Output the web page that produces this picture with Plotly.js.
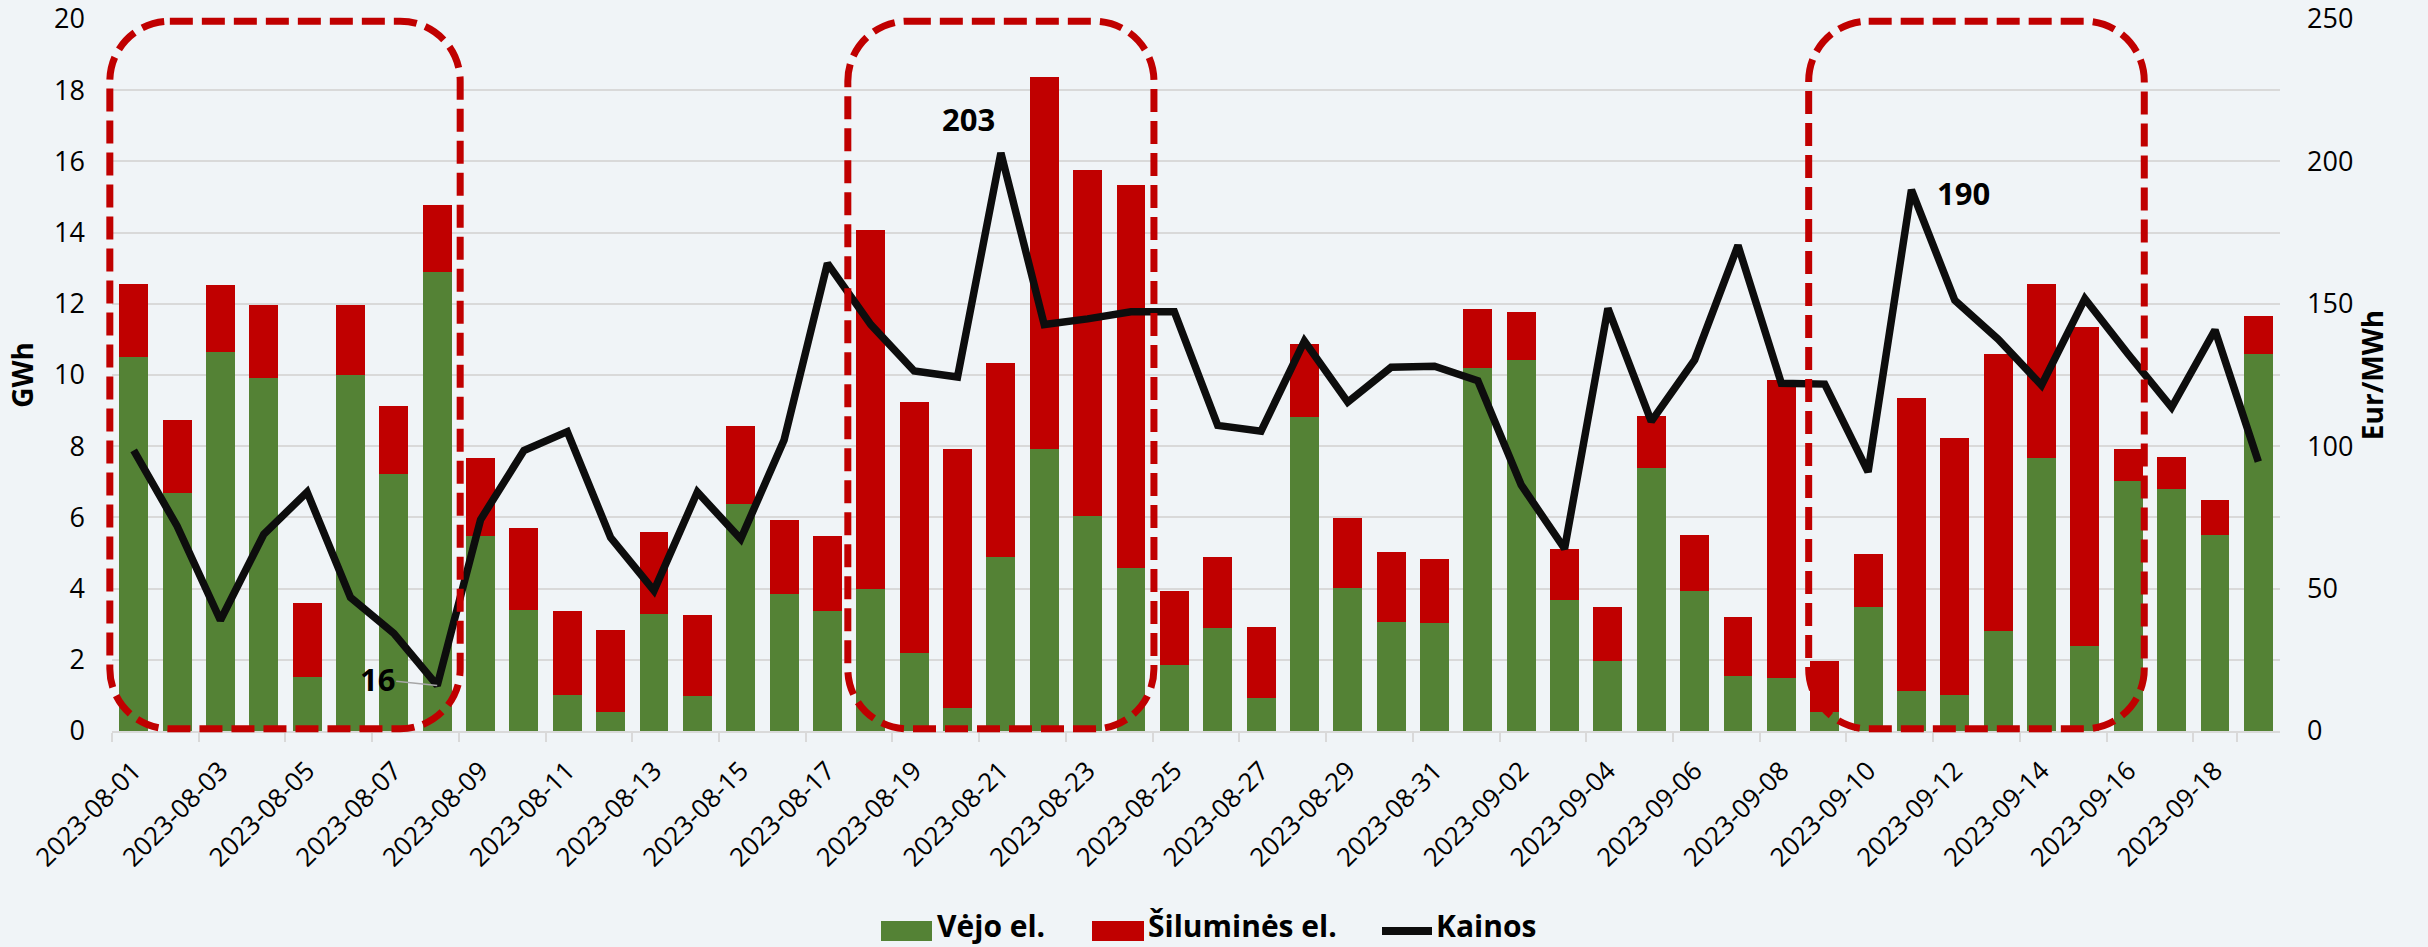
<!DOCTYPE html>
<html>
<head>
<meta charset="utf-8">
<script src="https://cdn.plot.ly/plotly-3.0.1.min.js"></script>
<style>
html,body{margin:0;padding:0;background:#F0F4F7;}
#chart{width:2428px;height:947px;}
</style>
</head>
<body>
<div id="chart"></div>
<script>
// ---- data ----
const dates = [
  "2023-08-01","2023-08-02","2023-08-03","2023-08-04","2023-08-05","2023-08-06","2023-08-07","2023-08-08","2023-08-09","2023-08-10",
  "2023-08-11","2023-08-12","2023-08-13","2023-08-14","2023-08-15","2023-08-16","2023-08-17","2023-08-18","2023-08-19","2023-08-20",
  "2023-08-21","2023-08-22","2023-08-23","2023-08-24","2023-08-25","2023-08-26","2023-08-27","2023-08-28","2023-08-29","2023-08-30",
  "2023-08-31","2023-09-01","2023-09-02","2023-09-03","2023-09-04","2023-09-05","2023-09-06","2023-09-07","2023-09-08","2023-09-09",
  "2023-09-10","2023-09-11","2023-09-12","2023-09-13","2023-09-14","2023-09-15","2023-09-16","2023-09-17","2023-09-18","2023-09-19"
];
const windGWh = [
  10.50, 6.68, 10.64, 9.92, 1.52, 10.00, 7.23, 12.88, 5.49, 3.40,
  1.02, 0.54, 3.29, 0.98, 6.39, 3.86, 3.38, 3.98, 2.19, 0.65,
  4.90, 7.91, 6.05, 4.57, 1.85, 2.89, 0.92, 8.83, 4.01, 3.07,
  3.04, 10.19, 10.42, 3.67, 1.98, 7.39, 3.93, 1.54, 1.48, 0.54,
  3.49, 1.11, 1.01, 2.81, 7.68, 2.40, 7.02, 6.81, 5.50, 10.60
];
const thermalGWh = [
  2.05, 2.06, 1.90, 2.06, 2.07, 1.98, 1.89, 1.89, 2.19, 2.31,
  2.34, 2.31, 2.31, 2.28, 2.18, 2.06, 2.11, 10.10, 7.06, 7.28,
  5.44, 10.46, 9.70, 10.78, 2.09, 2.01, 2.00, 2.03, 1.98, 1.96,
  1.78, 1.67, 1.36, 1.44, 1.51, 1.47, 1.57, 1.65, 8.38, 1.42,
  1.48, 8.24, 7.21, 7.77, 4.87, 8.94, 0.91, 0.89, 0.98, 1.07
];
const prices = [
  98.5, 72.0, 38.9, 69.1, 83.9, 46.9, 34.3, 16.0, 74.2, 98.5,
  105.1, 67.9, 49.3, 83.9, 67.4, 102.2, 164.2, 142.7, 126.4, 124.3,
  203.0, 142.7, 144.7, 147.2, 147.2, 107.3, 105.3, 136.9, 115.5, 127.7,
  128.1, 123.0, 86.4, 64.0, 148.4, 108.7, 130.3, 170.5, 122.1, 121.8,
  91.0, 190.0, 151.2, 137.6, 121.4, 151.8, 132.3, 113.6, 140.8, 94.6
];
const tickDates = dates.filter((d, i) => i % 2 === 0);
const seriesNames = ["Vėjo el.", "Šiluminės el.", "Kainos"];
const labelledDates = ["2023-08-08", "2023-08-21", "2023-09-11"];

// ---- style ----
const GREEN = "#548235", RED = "#C00000", BLACK = "#0D0D0D", BG = "#F0F4F7", GRID = "#D9D9D9";
const W = 2428, H = 947;
const M = {l: 112, r: 148, t: 19, b: 216};
const PW = W - M.l - M.r, PH = H - M.t - M.b;
const N = dates.length;

const traces = [
  {type: "bar", name: seriesNames[0], x: dates, y: windGWh, marker: {color: GREEN}, yaxis: "y", showlegend: false},
  {type: "bar", name: seriesNames[1], x: dates, y: thermalGWh, marker: {color: RED}, yaxis: "y", showlegend: false},
  {type: "scatter", mode: "lines", name: seriesNames[2], x: dates, y: prices, yaxis: "y2",
   line: {color: BLACK, width: 7.5, shape: "linear"}, showlegend: false}
];

// highlight boxes (category-index extents)
const boxes = [[-0.55, 7.53], [16.47, 23.53], [38.63, 46.37]];
function catToPaper(c) { return (c + 0.5) / N; }
function roundRectPath(x0, x1, y0, y1, rpx) {
  const rx = rpx / PW, ry = rpx / PH, k = 0.5523;
  const f = v => v.toFixed(5);
  return `M ${f(x0 + rx)},${f(y1)} L ${f(x1 - rx)},${f(y1)} ` +
    `C ${f(x1 - rx + k*rx)},${f(y1)} ${f(x1)},${f(y1 - ry + k*ry)} ${f(x1)},${f(y1 - ry)} ` +
    `L ${f(x1)},${f(y0 + ry)} ` +
    `C ${f(x1)},${f(y0 + ry - k*ry)} ${f(x1 - rx + k*rx)},${f(y0)} ${f(x1 - rx)},${f(y0)} ` +
    `L ${f(x0 + rx)},${f(y0)} ` +
    `C ${f(x0 + rx - k*rx)},${f(y0)} ${f(x0)},${f(y0 + ry - k*ry)} ${f(x0)},${f(y0 + ry)} ` +
    `L ${f(x0)},${f(y1 - ry)} ` +
    `C ${f(x0)},${f(y1 - ry + k*ry)} ${f(x0 + rx - k*rx)},${f(y1)} ${f(x0 + rx)},${f(y1)} Z`;
}
const shapes = boxes.map(b => ({
  type: "path", xref: "paper", yref: "paper", layer: "above",
  path: roundRectPath(catToPaper(b[0]), catToPaper(b[1]), 0.003, 0.997, 60),
  line: {color: RED, width: 7, dash: "23px,9px"}, fillcolor: "rgba(0,0,0,0)"
}));

// custom legend (pixel positions -> paper)
const px = v => (v - M.l) / PW;
const py = v => (H - M.b - v) / PH;
const legY = 931;
shapes.push(
  {type: "rect", xref: "paper", yref: "paper", x0: px(881), x1: px(932), y0: py(legY + 10), y1: py(legY - 10), fillcolor: GREEN, line: {width: 0}},
  {type: "rect", xref: "paper", yref: "paper", x0: px(1092), x1: px(1144), y0: py(legY + 10), y1: py(legY - 10), fillcolor: RED, line: {width: 0}},
  {type: "line", xref: "paper", yref: "paper", x0: px(1382), x1: px(1432), y0: py(legY), y1: py(legY), line: {color: BLACK, width: 8}}
);
const legFont = {family: "Open Sans", size: 30, color: "#000", weight: 700};
const legBottom = 947;
const annotations = [
  {xref: "paper", yref: "paper", x: px(936), y: py(legBottom), xanchor: "left", yanchor: "bottom", borderpad: 0, text: "<b>" + seriesNames[0] + "</b>", showarrow: false, font: legFont},
  {xref: "paper", yref: "paper", x: px(1147), y: py(legBottom), xanchor: "left", yanchor: "bottom", borderpad: 0, text: "<b>" + seriesNames[1] + "</b>", showarrow: false, font: legFont},
  {xref: "paper", yref: "paper", x: px(1435), y: py(legBottom), xanchor: "left", yanchor: "bottom", borderpad: 0, text: "<b>" + seriesNames[2] + "</b>", showarrow: false, font: legFont}
];

// value labels
const valFont = {family: "Open Sans", size: 31, color: "#000"};
const iA = dates.indexOf(labelledDates[0]);
const iB = dates.indexOf(labelledDates[1]);
const iC = dates.indexOf(labelledDates[2]);
annotations.push(
  {x: dates[iA], y: prices[iA], xref: "x", yref: "y2", text: "<b>" + Math.round(prices[iA]) + "</b>", font: valFont,
   showarrow: true, arrowhead: 0, arrowwidth: 1.5, arrowcolor: "#A6A6A6", ax: -60, ay: -6, standoff: 0},
  {x: dates[iB], y: prices[iB], xref: "x", yref: "y2", text: "<b>" + Math.round(prices[iB]) + "</b>", font: valFont,
   showarrow: false, xshift: -32, yshift: 34},
  {x: dates[iC], y: prices[iC], xref: "x", yref: "y2", text: "<b>" + Math.round(prices[iC]) + "</b>", font: valFont,
   showarrow: false, xshift: 52, yshift: -3}
);

const tickFont = {family: "Open Sans", size: 27, color: "#000"};
const layout = {
  width: W, height: H,
  margin: M,
  paper_bgcolor: BG, plot_bgcolor: BG,
  barmode: "stack", bargap: 0.333,
  showlegend: false,
  font: {family: "Open Sans", color: "#000"},
  xaxis: {
    type: "category", tickmode: "array", tickvals: tickDates, ticktext: tickDates,
    tickangle: -45, tickson: "boundaries", ticks: "outside", ticklen: 9, tickwidth: 2, tickcolor: GRID,
    showline: true, linecolor: GRID, linewidth: 2, showgrid: false, ticklabelstandoff: 12,
    tickfont: {family: "Open Sans", size: 26, color: "#000"}, automargin: false
  },
  yaxis: {
    range: [0, 20], dtick: 2, tick0: 0, showgrid: true, gridcolor: GRID, gridwidth: 2, zeroline: false,
    tickfont: tickFont, ticklabelstandoff: 26, automargin: false, ticklabeloverflow: "allow",
    title: {text: "GWh", font: {family: "Open Sans", size: 28, color: "#000", weight: 700}, standoff: 12}
  },
  yaxis2: {
    range: [0, 250], dtick: 50, tick0: 0, overlaying: "y", side: "right", showgrid: false, zeroline: false,
    tickfont: tickFont, ticklabelstandoff: 26, automargin: false, ticklabeloverflow: "allow",
    title: {text: "Eur/MWh", font: {family: "Open Sans", size: 28, color: "#000", weight: 700}, standoff: 8}
  },
  shapes: shapes,
  annotations: annotations
};

Plotly.newPlot("chart", traces, layout, {displayModeBar: false, staticPlot: true});
</script>
</body>
</html>
